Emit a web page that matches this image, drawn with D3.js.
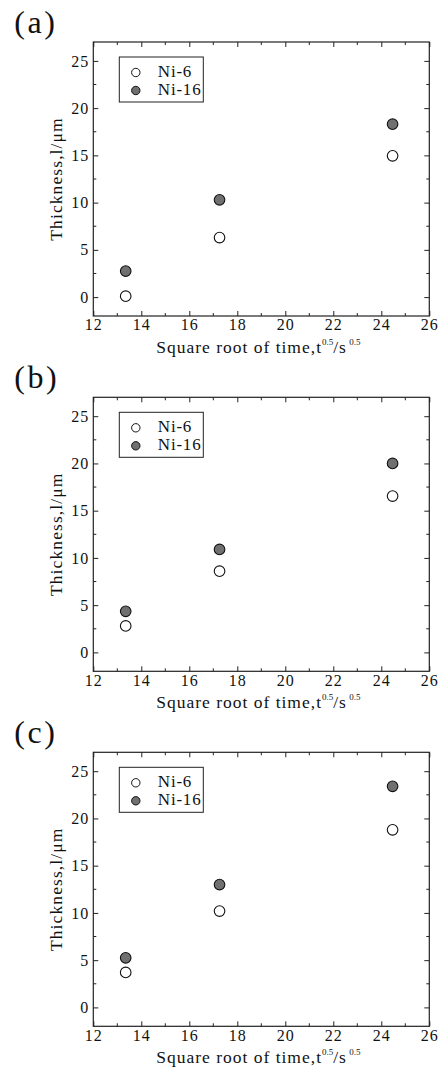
<!DOCTYPE html>
<html>
<head>
<meta charset="utf-8">
<script src="https://cdn.jsdelivr.net/npm/d3@7"></script>
<style>
  body { margin: 0; background: #fff; }
  svg text { font-family: 'Liberation Serif', 'Times New Roman', serif; fill: #111; }
</style>
</head>
<body>
<svg id="chart"></svg>
<script>
// data
let panelLabels = ['(a)', '(b)', '(c)']
let timeRoot = [13.35, 17.26, 24.47]
let ni6 = [
  [0.1, 6.3, 14.95],
  [2.8, 8.6, 16.55],
  [3.7, 10.2, 18.8]
]
let ni16 = [
  [2.75, 10.3, 18.3],
  [4.35, 10.9, 20.0],
  [5.25, 13.0, 23.4]
]
let seriesNames = ['Ni-6', 'Ni-16']
let xTicks = [12, 14, 16, 18, 20, 22, 24, 26]
let yTicks = [0, 5, 10, 15, 20, 25]

let width = 443
let height = 1070
let left = 93.3
let plotW = 336
let plotH = 274
let panelTops = [42, 397.3, 752.3]

let svg = d3.select('#chart')
    .attr('width', width)
    .attr('height', height)

let xScale = d3.scaleLinear()
    .domain([12, 26])
    .range([0, plotW])

let yScale = d3.scaleLinear()
    .domain([-2, 27])
    .range([plotH, 0])

let drawPanel = (i) => {
    let g = svg.append('g')
        .attr('transform', 'translate(' + left + ',' + panelTops[i] + ')')

    // panel letter
    g.append('text')
        .attr('x', -79)
        .attr('y', -9)
        .style('font-size', '32px')
        .style('letter-spacing', '2.5px')
        .text(panelLabels[i])

    // frame
    g.append('rect')
        .attr('width', plotW)
        .attr('height', plotH)
        .attr('fill', 'none')
        .attr('stroke', '#222')
        .attr('stroke-width', 1.2)

    // minor ticks on all sides
    let xMinor = d3.range(13, 26, 2)
    let yMinor = d3.range(-2.5, 27, 5)
    let tickG = g.append('g').attr('stroke', '#222').attr('stroke-width', 1)
    xMinor.forEach(v => {
        tickG.append('line').attr('x1', xScale(v)).attr('x2', xScale(v)).attr('y1', plotH).attr('y2', plotH - 3)
        tickG.append('line').attr('x1', xScale(v)).attr('x2', xScale(v)).attr('y1', 0).attr('y2', 3)
    })
    yMinor.filter(v => v > -2).forEach(v => {
        tickG.append('line').attr('y1', yScale(v)).attr('y2', yScale(v)).attr('x1', 0).attr('x2', 3)
        tickG.append('line').attr('y1', yScale(v)).attr('y2', yScale(v)).attr('x1', plotW).attr('x2', plotW - 3)
    })

    // major ticks via axes, pointing inward
    let xAxis = d3.axisBottom(xScale).tickValues(xTicks).tickSize(-5).tickPadding(3)
    let xAxisTop = d3.axisTop(xScale).tickValues(xTicks).tickSize(-5).tickFormat('')
    let yAxis = d3.axisLeft(yScale).tickValues(yTicks).tickSize(-5).tickPadding(4)
    let yAxisRight = d3.axisRight(yScale).tickValues(yTicks).tickSize(-5).tickFormat('')

    let styleAxis = (sel) => {
        sel.select('.domain').remove()
        sel.selectAll('line').attr('stroke', '#222')
        sel.selectAll('text')
            .style('font-family', "'Liberation Serif', serif")
            .style('font-size', '16px')
            .style('letter-spacing', '1px')
            .attr('fill', '#1a1a1a')
    }

    g.append('g').attr('transform', 'translate(0,' + plotH + ')').call(xAxis).call(styleAxis)
    g.append('g').call(xAxisTop).call(styleAxis)
    g.append('g').call(yAxis).call(styleAxis)
    g.append('g').attr('transform', 'translate(' + plotW + ',0)').call(yAxisRight).call(styleAxis)

    // y label
    g.append('text')
        .attr('transform', 'translate(-31,' + (plotH / 2) + ') rotate(-90)')
        .attr('text-anchor', 'middle')
        .style('font-size', '17.5px')
        .style('letter-spacing', '1.1px')
        .text('Thickness,l/\u03bcm')

    // x label with superscripts
    let xl = g.append('text')
        .attr('x', plotW / 2 - 3)
        .attr('y', plotH + 37)
        .attr('text-anchor', 'middle')
        .style('font-size', '17.5px')
        .style('letter-spacing', '1px')
    xl.append('tspan').text('Square root of time,t')
    xl.append('tspan').attr('dy', -8).style('font-size', '9px').style('letter-spacing', '0px').text('0.5')
    xl.append('tspan').attr('dy', 8).text('/s')
    xl.append('tspan').attr('dy', -8).style('font-size', '9px').style('letter-spacing', '0px').text(' 0.5')

    // points
    let fills = ['#fff', '#707070']
    let sets = [ni6[i], ni16[i]]
    sets.forEach((vals, s) => {
        g.selectAll('circle.s' + s)
            .data(vals)
            .enter()
            .append('circle')
            .attr('class', 's' + s)
            .attr('cx', (d, k) => xScale(timeRoot[k]))
            .attr('cy', d => yScale(d))
            .attr('r', 5.3)
            .attr('fill', fills[s])
            .attr('stroke', '#111')
            .attr('stroke-width', 1.1)
    })

    // legend
    let lg = g.append('g').attr('transform', 'translate(26,15)')
    lg.append('rect')
        .attr('width', 84)
        .attr('height', 45)
        .attr('fill', '#fff')
        .attr('stroke', '#222')
        .attr('stroke-width', 1)
    seriesNames.forEach((name, s) => {
        lg.append('circle')
            .attr('cx', 16.5)
            .attr('cy', 15.5 + s * 18)
            .attr('r', 4.2)
            .attr('fill', fills[s])
            .attr('stroke', '#111')
            .attr('stroke-width', 1)
        lg.append('text')
            .attr('x', 38.5)
            .attr('y', 20 + s * 18)
            .style('font-size', '17px')
            .style('letter-spacing', '0.8px')
            .text(name)
    })
}

panelLabels.forEach((p, i) => drawPanel(i))
</script>
</body>
</html>
